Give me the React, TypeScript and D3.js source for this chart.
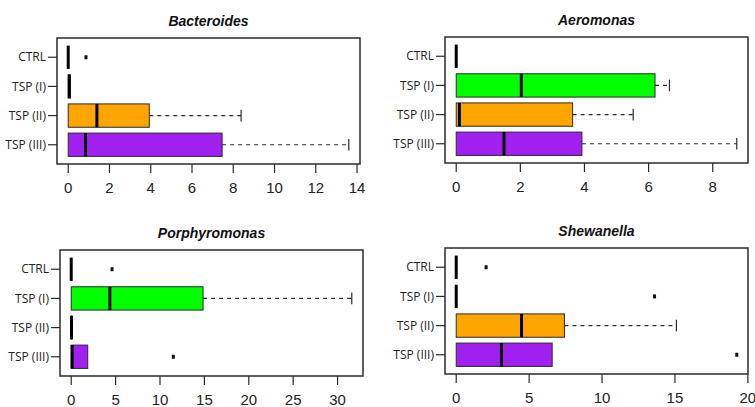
import React from 'react';
import * as d3 from 'd3';

// groups, drawn top to bottom
const groups = ['CTRL', 'TSP (I)', 'TSP (II)', 'TSP (III)'];
const groupColors = ['#ffffff', '#00ff00', '#ffa500', '#a020f0'];

// Bacteroides
const bacteroidesMedian = [0, 0.05, 1.39, 0.84];
const bacteroidesQ3 = [0, 0.1, 3.93, 7.46];
const bacteroidesWhisker = [0, 0.1, 8.38, 13.6];
const bacteroidesOutliers = [[0.86], [], [], []];
const bacteroidesTicks = [0, 2, 4, 6, 8, 10, 12, 14];

// Aeromonas
const aeromonasMedian = [0, 2.03, 0.1, 1.49];
const aeromonasQ3 = [0, 6.2, 3.63, 3.92];
const aeromonasWhisker = [0, 6.65, 5.52, 8.75];
const aeromonasOutliers = [[], [], [], []];
const aeromonasTicks = [0, 2, 4, 6, 8];

// Porphyromonas
const porphyromonasMedian = [0, 4.35, 0.03, 0.1];
const porphyromonasQ3 = [0, 14.85, 0.1, 1.86];
const porphyromonasWhisker = [0, 31.6, 0.1, 1.86];
const porphyromonasOutliers = [[4.6], [], [], [11.5]];
const porphyromonasTicks = [0, 5, 10, 15, 20, 25, 30];

// Shewanella
const shewanellaMedian = [0, 0, 4.48, 3.1];
const shewanellaQ3 = [0, 0, 7.42, 6.58];
const shewanellaWhisker = [0, 0, 15.1, 6.58];
const shewanellaOutliers = [[2.05], [13.6], [], [19.24]];
const shewanellaTicks = [0, 5, 10, 15, 20];

const panels = [
  { title: 'Bacteroides', median: bacteroidesMedian, q3: bacteroidesQ3, whisker: bacteroidesWhisker, outliers: bacteroidesOutliers, ticks: bacteroidesTicks, x: 57, y: 38 },
  { title: 'Aeromonas', median: aeromonasMedian, q3: aeromonasQ3, whisker: aeromonasWhisker, outliers: aeromonasOutliers, ticks: aeromonasTicks, x: 445, y: 37 },
  { title: 'Porphyromonas', median: porphyromonasMedian, q3: porphyromonasQ3, whisker: porphyromonasWhisker, outliers: porphyromonasOutliers, ticks: porphyromonasTicks, x: 60, y: 250 },
  { title: 'Shewanella', median: shewanellaMedian, q3: shewanellaQ3, whisker: shewanellaWhisker, outliers: shewanellaOutliers, ticks: shewanellaTicks, x: 445, y: 248 },
];

const W = 303;
const H = 126;
const ink = '#2b2b2b';

const Panel = ({ p }: { p: typeof panels[number] }) => {
  // R style 4% padding around the data range
  const max = d3.max([...p.whisker, ...p.outliers.flat()]) as number;
  const x = d3.scaleLinear().domain([-0.04 * max, max * 1.04]).range([0, W]);
  const y = d3.scaleLinear().domain([0.34, 4.66]).range([0, H]);
  const bw = y(1.8) - y(1); // boxwex 0.8

  return (
    <g transform={`translate(${p.x},${p.y})`}>
      <text x={W / 2} y={-12} textAnchor="middle" fontFamily="'Liberation Sans', Arial, sans-serif"
        fontWeight="bold" fontStyle="italic" fontSize={14} fill="#111">{p.title}</text>

      {groups.map((g, i) => {
        const cy = y(i + 1);
        return (
          <g key={g}>
            {p.whisker[i] > p.q3[i] && (
              <>
                <line x1={x(p.q3[i])} x2={x(p.whisker[i])} y1={cy} y2={cy} stroke={ink} strokeWidth={1.2} strokeDasharray="4,4" />
                <line x1={x(p.whisker[i])} x2={x(p.whisker[i])} y1={cy - bw / 4} y2={cy + bw / 4} stroke={ink} strokeWidth={1.2} />
              </>
            )}
            {p.q3[i] > 0 && (
              <rect x={x(0)} y={cy - bw / 2} width={x(p.q3[i]) - x(0)} height={bw}
                fill={groupColors[i]} stroke={ink} strokeWidth={1} />
            )}
            <line x1={x(p.median[i])} x2={x(p.median[i])} y1={cy - bw / 2} y2={cy + bw / 2} stroke="#000" strokeWidth={3} />
            {p.outliers[i].map((o, k) => (
              <rect key={k} x={x(o) - 1.5} y={cy - 2} width={3} height={4} fill="#111" />
            ))}
            <line x1={-9} x2={0} y1={cy} y2={cy} stroke={ink} strokeWidth={1.2} />
            <text x={-11} y={cy} dy="0.35em" textAnchor="end" fontFamily="'Liberation Sans Narrow', 'Open Sans', sans-serif"
              fontSize={12} fill="#222">{g}</text>
          </g>
        );
      })}

      {p.ticks.map(t => (
        <g key={t}>
          <line x1={x(t)} x2={x(t)} y1={H} y2={H + 9} stroke={ink} strokeWidth={1.2} />
          <text x={x(t)} y={H + 29} textAnchor="middle" fontFamily="'Liberation Sans', Arial, sans-serif"
            fontSize={15} fill="#222">{t}</text>
        </g>
      ))}

      <rect x={0} y={0} width={W} height={H} fill="none" stroke={ink} strokeWidth={1.5} />
    </g>
  );
};

export default function App() {
  return (
    <div style={{ position: 'absolute', left: 0, top: 0 }}>
      <svg width={755} height={407} style={{ display: 'block', background: '#fff' }}>
        {panels.map(p => <Panel key={p.title} p={p} />)}
      </svg>
    </div>
  );
}
